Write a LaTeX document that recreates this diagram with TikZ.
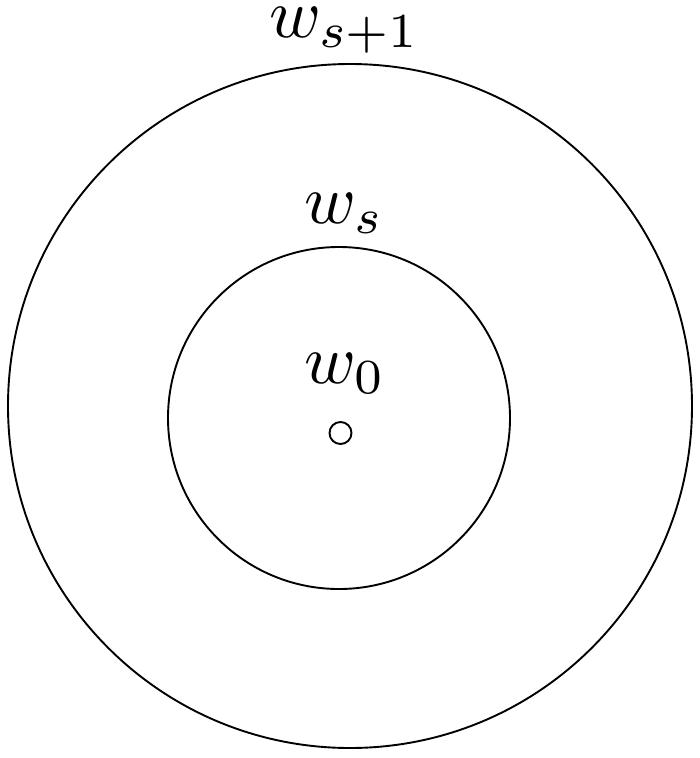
\documentclass[tikz,border=0pt]{standalone}
\usepackage{fix-cm}
\newcommand{\biglab}[1]{\scalebox{7}{$#1$}}
\begin{document}
\begin{tikzpicture}[x=1pt,y=-1pt,
  ring/.style={draw=black,line width=1.9pt},
  lab/.style={anchor=base west,inner sep=0pt,font=\fontsize{10}{12}\selectfont}]
\useasboundingbox (0,0) rectangle (700,758);
\draw[ring] (350,406) circle[radius=342];
\draw[ring] (339,418) circle[radius=171];
\draw[ring] (340.5,433) circle[radius=11];
\node[lab] (wsp) at (269,37) {\biglab{w_{s+1}}};
\node[lab] (ws) at (304,223) {\biglab{w_s}};
\node[lab] (w0) at (304,383) {\biglab{w_0}};
\end{tikzpicture}
\end{document}
